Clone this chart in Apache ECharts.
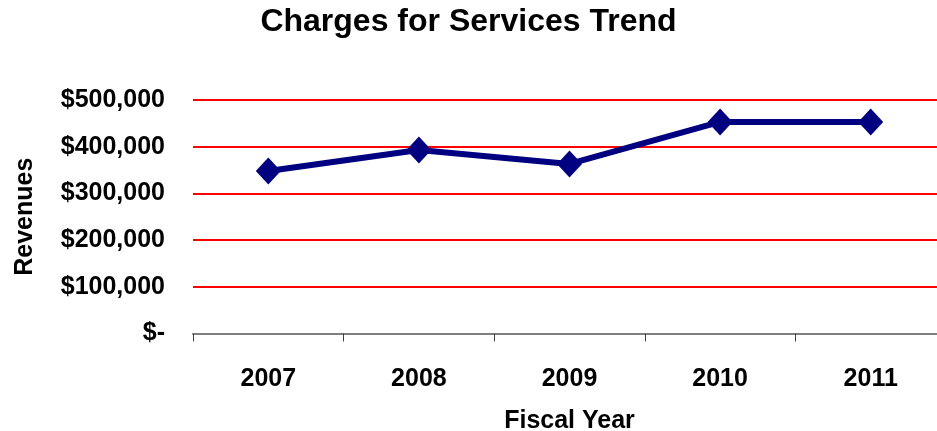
<!DOCTYPE html>
<html>
<head>
<meta charset="utf-8">
<script src="https://cdn.jsdelivr.net/npm/echarts@6/dist/echarts.min.js"></script>
<style>
  html, body { margin: 0; padding: 0; background: #fff; }
  #chart { width: 937px; height: 431px; }
</style>
</head>
<body>
<div id="chart"></div>
<script>
// Fiscal years and revenue from charges for services
var years = ['2007', '2008', '2009', '2010', '2011'];
var revenues = [348000, 393000, 363000, 453000, 453000];
var yTicks = [0, 100000, 200000, 300000, 400000, 500000];

var FONT = '"Liberation Sans", Arial, sans-serif';

function money(v) {
  if (v === 0) return '$-';
  return '$' + v.toString().replace(/\B(?=(\d{3})+(?!\d))/g, ',');
}

var chart = echarts.init(document.getElementById('chart'));
chart.setOption({
  animation: false,
  backgroundColor: '#ffffff',
  title: {
    text: 'Charges for Services Trend',
    left: 'center',
    top: 1,
    textStyle: { fontFamily: FONT, fontWeight: 'bold', fontSize: 32, color: '#000' }
  },
  // plot area runs slightly past the right edge of the canvas
  grid: { left: 193, top: 100, width: 753, height: 233.5, containLabel: false, outerBoundsMode: 'none' },
  xAxis: {
    type: 'category',
    data: years,
    boundaryGap: true,
    name: 'Fiscal Year',
    nameLocation: 'middle',
    nameGap: 75,
    nameTextStyle: { fontFamily: FONT, fontWeight: 'bold', fontSize: 25, color: '#000' },
    axisLine: { lineStyle: { color: '#808080', width: 2 } },
    axisTick: { show: true, length: 8, lineStyle: { color: '#404040', width: 1 } },
    axisLabel: { margin: 33, fontFamily: FONT, fontWeight: 'bold', fontSize: 25, color: '#000' },
    splitLine: { show: false }
  },
  yAxis: {
    type: 'value',
    min: yTicks[0],
    max: yTicks[yTicks.length - 1],
    interval: yTicks[1] - yTicks[0],
    name: 'Revenues',
    nameLocation: 'middle',
    nameRotate: 90,
    nameGap: 168,
    nameTextStyle: { fontFamily: FONT, fontWeight: 'bold', fontSize: 25, color: '#000', verticalAlign: 'middle' },
    axisLine: { show: false },
    axisTick: { show: false },
    axisLabel: {
      margin: 28,
      fontFamily: FONT, fontWeight: 'bold', fontSize: 25, color: '#000',
      formatter: money
    },
    splitLine: {
      show: true,
      lineStyle: { color: '#ff0000', width: 2 },
      showMinLine: false
    }
  },
  series: [{
    type: 'line',
    data: revenues,
    lineStyle: { color: '#000080', width: 6 },
    itemStyle: { color: '#000080' },
    symbol: 'diamond',
    symbolSize: [25, 27],
    z: 5
  }]
});
</script>
</body>
</html>
